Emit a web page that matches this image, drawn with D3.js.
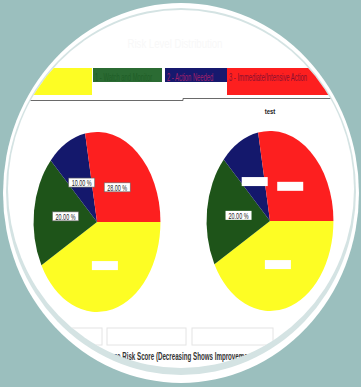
<!DOCTYPE html>
<html><head><meta charset="utf-8">
<script src="https://cdn.jsdelivr.net/npm/d3@7"></script>
<style>html,body{margin:0;padding:0;background:#9bbfbe;overflow:hidden}</style>
</head><body>
<svg id="c" width="361" height="387"></svg>
<script>
// ---- data ----
const categories = ["0 - No Action", "1 - Watch and Monitor", "2 - Action Needed", "3 - Immediate/Intensive Action"];
const categoryColors = ["#fdfd24", "#2b6b33", "#16196e", "#fd1f1f"];
const sliceColors = ["#fdfd24", "#1e5419", "#14186c", "#fd1f1f"];
const legendTextColors = ["#fdfd24", "#1f5e27", "#a2206a", "#8a1030"];
const pieTitles = ["", "test"];
const leftValues = [42, 20, 10, 28];
const rightValues = [42, 20, 10, 28];
const leftShown = [false, true, true, true];
const rightShown = [false, true, false, false];
const chartTitle = "Risk Level Distribution";
const axisTitle = "Average Risk Score (Decreasing Shows Improvement)";

const FONT = "Liberation Sans, Arial, sans-serif";
const svg = d3.select("#c");
// framing ellipses
svg.append("ellipse").attr("cx",181).attr("cy",193).attr("rx",178).attr("ry",190).attr("fill","#ffffff");
svg.append("ellipse").attr("cx",181).attr("cy",191.5).attr("rx",175).attr("ry",183.5).attr("fill","#d4e3e3");
svg.append("ellipse").attr("cx",181).attr("cy",189).attr("rx",173).attr("ry",179).attr("fill","#ffffff");

const defs = svg.append("defs");
defs.append("clipPath").attr("id","clip").append("ellipse")
  .attr("cx",181).attr("cy",189).attr("rx",173).attr("ry",179);
const g = svg.append("g").attr("clip-path","url(#clip)");

// condensed text helper
function ctext(parent, x, y, str, size, sx, opts={}){
  const t = parent.append("g").attr("transform",`translate(${x},${y}) scale(${sx},1)`)
    .append("text").attr("x",0).attr("y",0)
    .attr("font-family",FONT).attr("font-size",size)
    .attr("text-anchor",opts.anchor||"start")
    .attr("font-weight",opts.weight||"normal")
    .attr("fill",opts.fill||"#222").text(str);
  return t;
}

// faint title
ctext(g, 175, 48, chartTitle, 12, 0.8, {anchor:"middle", fill:"#f8f8f8"});

// legend
const legendX = d3.scaleOrdinal().domain(categories).range([[30,92],[93,162],[165,227],[227,340]]);
const legendH = [27, 14, 14, 27];
categories.forEach((c,i)=>{
  const [x0,x1] = legendX(c);
  g.append("rect").attr("x",x0).attr("y",68).attr("width",x1-x0).attr("height",legendH[i]).attr("fill",categoryColors[i]);
  defs.append("clipPath").attr("id","lc"+i).append("rect").attr("x",x0).attr("y",68).attr("width",x1-x0).attr("height",14);
  const lg = g.append("g").attr("clip-path",`url(#lc${i})`);
  ctext(lg, x0+2, 80.5, c, 11, 0.53, {fill:legendTextColors[i]});
});
// separator line
g.append("path").attr("d","M20,100.5 H183 V98.5 H340").attr("fill","none").attr("stroke","#6a6a6a").attr("stroke-width",1);

// pies
const pie = d3.pie().sort(null).startAngle(Math.PI/2).endAngle(Math.PI/2 + 2*Math.PI);
const R = 90, sx = 0.705;
const arc = d3.arc().innerRadius(0).outerRadius(R);
function drawPie(cx, cy, values, shown, title, bordered){
  const arcs = pie(values);
  const pg = g.append("g").attr("transform",`translate(${cx},${cy}) scale(${sx},1)`);
  pg.selectAll("path").data(arcs).join("path").attr("d",arc).attr("fill",(d,i)=>sliceColors[i]);
  const lg = g.append("g").attr("transform",`translate(${cx},${cy})`);
  arcs.forEach((d,i)=>{
    const [x,y] = arc.centroid(d);
    const lx = x*sx, ly = y;
    lg.append("rect").attr("x",lx-13).attr("y",ly-4.5).attr("width",26).attr("height",9)
      .attr("fill","#fff").attr("stroke", bordered && shown[i] ? "#666" : "none").attr("stroke-width",0.6);
    ctext(lg, lx, ly+3.2, d3.format(".2f")(d.data)+" %", 8.5, 0.64, {anchor:"middle", fill: shown[i] ? "#222" : "#fff"});
  });
  ctext(g, cx, cy-107, title || "", 8, 0.75, {anchor:"middle", weight:"bold", fill: title ? "#222" : "#eee"});
}
drawPie(97, 222, leftValues, leftShown, pieTitles[0], true);
drawPie(270, 221, rightValues, rightShown, pieTitles[1], false);

// bottom boxes
[[20,102],[107,186],[192,273]].forEach(([a,b])=>{
  g.append("rect").attr("x",a).attr("y",328).attr("width",b-a).attr("height",17)
    .attr("fill","none").attr("stroke","#e4e4e4").attr("stroke-width",1);
});
// axis title: position so that "Score" begins at x≈137
const asx = 0.62;
const at = ctext(g, 0, 360, axisTitle, 10, asx, {weight:"bold", fill:"#333"});
const idx = axisTitle.indexOf("Score");
const off = at.node().getStartPositionOfChar(idx).x * asx;
d3.select(at.node().parentNode).attr("transform",`translate(${137-off},360) scale(${asx},1)`);
</script>
</body></html>
